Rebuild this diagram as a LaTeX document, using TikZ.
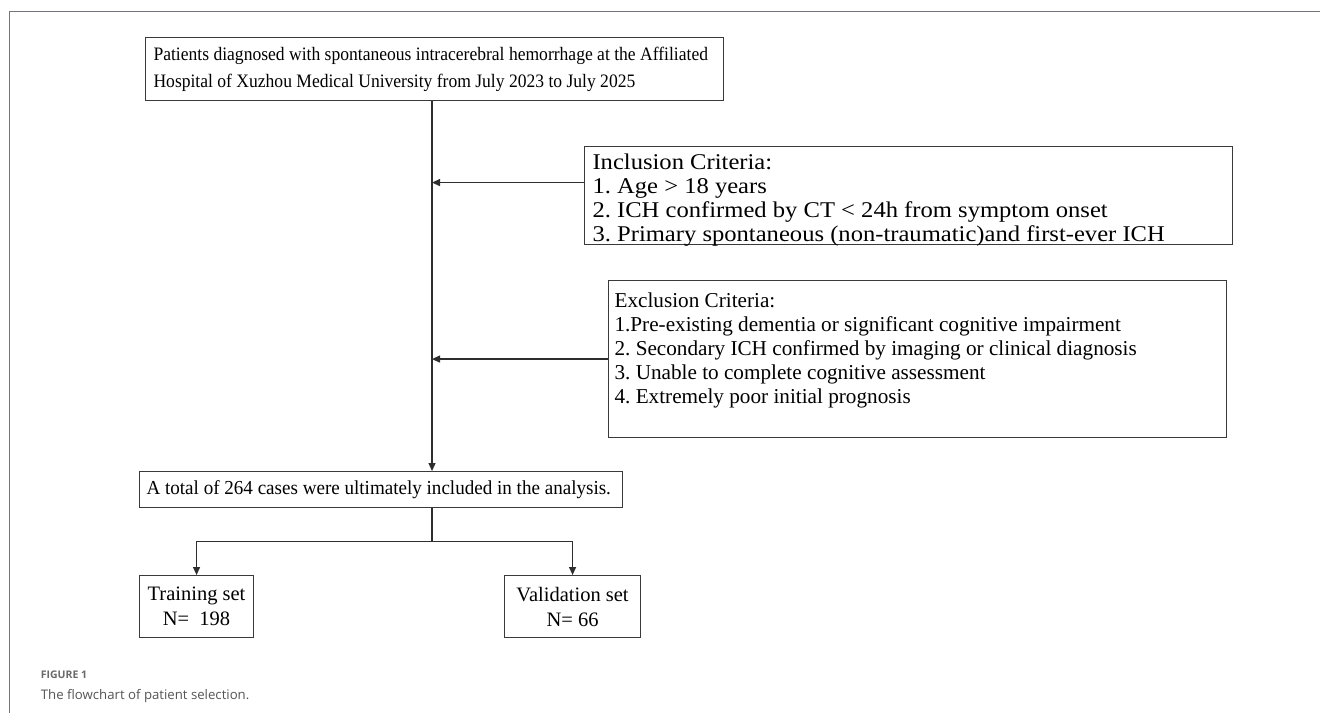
\documentclass[tikz,border=0pt]{standalone}
\usepackage{fontspec}
\usepackage{graphicx}
\setmainfont{Liberation Serif}
\newfontfamily\capfont{Open Sans}
\usetikzlibrary{arrows.meta}
\definecolor{bcol}{HTML}{3A3A3A}
\definecolor{lcol}{HTML}{2E2E2E}
\definecolor{framecol}{HTML}{74747C}
\definecolor{figcol}{HTML}{6A6A6A}
\definecolor{capcol}{HTML}{555555}
\newcommand\boxfont{\fontsize{20.5}{25}\selectfont}
\begin{document}
\frenchspacing
\begin{tikzpicture}[x=1pt,y=-1pt,
  bx/.style={draw=bcol, line width=1.1pt, inner sep=0pt, anchor=north west, font=\boxfont},
  arr/.style={draw=lcol, line width=1.2pt, -{Triangle[length=8pt,width=7pt]}},
  ln/.style={draw=lcol, line width=1.2pt}]
\useasboundingbox (0,0) rectangle (1320,713);
\fill[white] (0,0) rectangle (1320,713);
% outer frame (top and left rules)
\coordinate (fa) at (9.3,713);
\coordinate (fb) at (9.3,11.6);
\coordinate (fc) at (1320,11.6);
\draw[framecol, line width=1.6pt] (fa) -- (fb) -- (fc);
% boxes
\node[bx, minimum width=578pt, minimum height=63pt] (top) at (145,37)
  {\makebox[562pt][l]{\scalebox{0.924}[1]{\fontsize{19}{27}\selectfont\begin{tabular}{@{}l@{}}Patients diagnosed with spontaneous intracerebral hemorrhage at the Affiliated\\Hospital of Xuzhou Medical University from July 2023 to July 2025\end{tabular}}}};
\node[bx, minimum width=648pt] (incl) at (584,146)
  {\parbox[c][98pt][t]{632pt}{\vspace*{5.5pt}\scalebox{1.093}[1]{\fontsize{22.5}{24.3}\selectfont\begin{tabular}[t]{@{}l@{}}Inclusion Criteria:\\1. Age > 18 years\\2. ICH confirmed by CT < 24h from symptom onset\\3. Primary spontaneous (non-traumatic)and first-ever ICH\end{tabular}}}};
\node[bx, minimum width=618pt] (excl) at (608,280)
  {\parbox[c][157pt][t]{606pt}{\vspace*{9.7pt}\fontsize{21.2}{24}\selectfont\begin{tabular}[t]{@{}l@{}}Exclusion Criteria:\\1.Pre-existing dementia or significant cognitive impairment\\2. Secondary ICH confirmed by imaging or clinical diagnosis\\3. Unable to complete cognitive assessment\\4. Extremely poor initial prognosis\end{tabular}}};
\node[bx, minimum width=483pt, minimum height=36pt] (tot) at (139,471)
  {\makebox[469pt][l]{\scalebox{0.963}[1]{\fontsize{19.8}{24}\selectfont A total of 264 cases were ultimately included in the analysis.}}};
\node[bx, minimum width=114pt, minimum height=62pt, align=center] (train) at (139,575)
  {Training set\\N=\ \ 198};
\node[bx, minimum width=136pt, minimum height=62pt, align=center] (val) at (504,575)
  {Validation set\\N= 66};
% connectors
\coordinate (jx) at (432,0);
\draw[arr] (top.south -| jx) -- (tot.north -| jx);
\draw[arr] ([yshift=13pt]incl.west) -- ([yshift=13pt]incl.west -| jx);
\draw[arr] (excl.west) -- (excl.west -| jx);
\coordinate (sp) at (tot.south -| jx);
\draw[ln] (sp) -- ++(0,33) coordinate (sq);
\draw[arr] (sq) -| (train.north);
\draw[arr] (sq) -| (val.north);
% caption
\node[anchor=base west, inner sep=0pt, font=\capfont\bfseries\fontsize{10.5}{12}\selectfont, text=figcol] (fig) at (40.7,678) {FIGURE 1};
\node[anchor=base west, inner sep=0pt, font=\capfont\fontsize{13.2}{16}\selectfont, text=capcol] (cap) at (40.7,699) {The flowchart of patient selection.};
\end{tikzpicture}
\end{document}
